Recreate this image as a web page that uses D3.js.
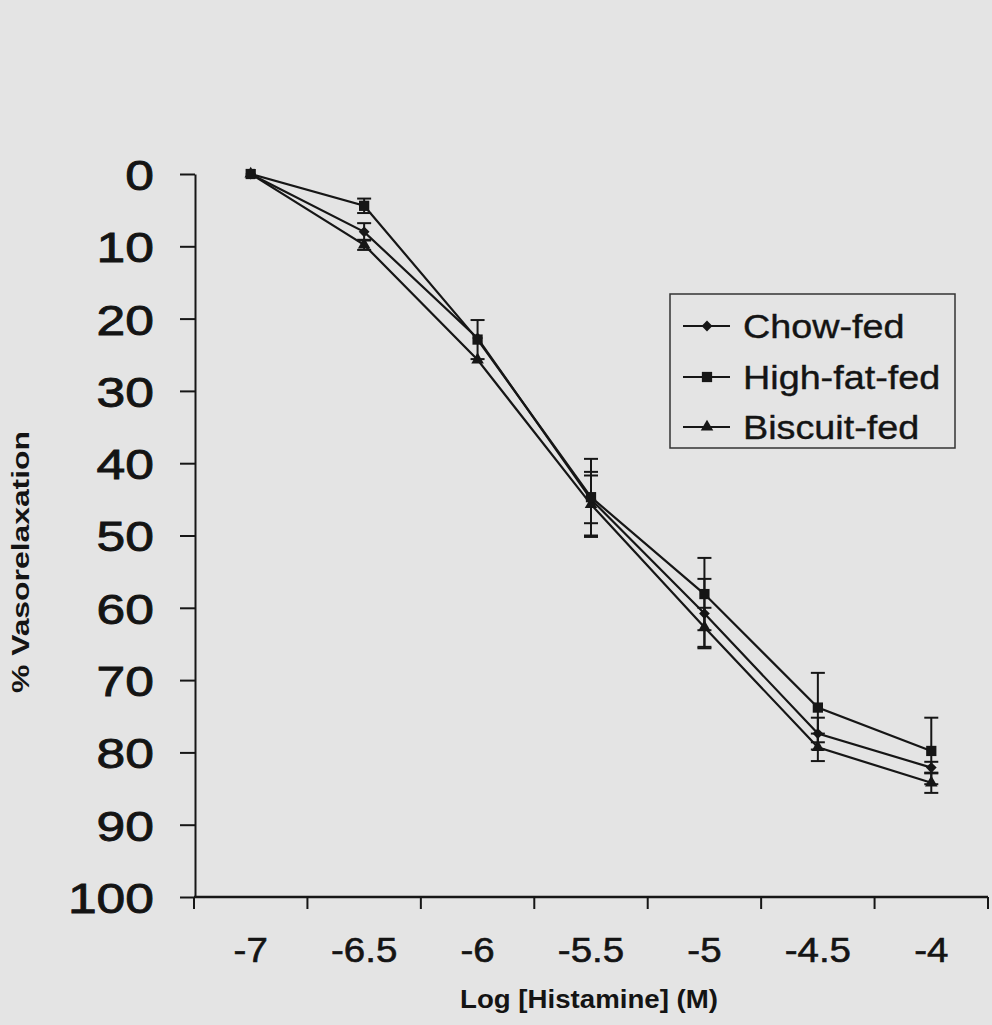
<!DOCTYPE html>
<html>
<head>
<meta charset="utf-8">
<script src="https://cdn.jsdelivr.net/npm/d3@7"></script>
<style>
html,body{margin:0;padding:0;background:#e4e4e4;}
svg{display:block;}
text{font-family:"Liberation Sans",Arial,sans-serif;fill:#141414;}
</style>
</head>
<body>
<svg id="chart" width="992" height="1025"></svg>
<script>
// ---- data ----
const categories = ["-7", "-6.5", "-6", "-5.5", "-5", "-4.5", "-4"];
const chowFed      = [0, 8.0, 22.7, 45.0, 60.8, 77.4, 82.1];
const chowFedSE    = [0, 1.2, 0.0, 3.3, 4.8, 2.2, 0.8];
const highFatFed   = [0, 4.4, 22.9, 44.7, 58.1, 73.8, 79.8];
const highFatFedSE = [0, 1.0, 2.7, 5.3, 5.0, 4.8, 4.6];
const biscuitFed   = [0, 9.8, 25.7, 45.7, 62.7, 79.3, 84.2];
const biscuitFedSE = [0, 0.7, 0.0, 4.5, 2.7, 1.9, 1.4];
const yTicks = [0, 10, 20, 30, 40, 50, 60, 70, 80, 90, 100];
const seriesNames = ["Chow-fed", "High-fat-fed", "Biscuit-fed"];
const seriesSymbols = ["diamond", "square", "triangle"];
const xTitle = "Log [Histamine] (M)";
const yTitle = "% Vasorelaxation";

const series = [
  {name: seriesNames[0], values: chowFed, se: chowFedSE, symbol: seriesSymbols[0]},
  {name: seriesNames[1], values: highFatFed, se: highFatFedSE, symbol: seriesSymbols[1]},
  {name: seriesNames[2], values: biscuitFed, se: biscuitFedSE, symbol: seriesSymbols[2]}
];
// drawing order (high-fat on top, as in the original)
const drawOrder = [2, 0, 1];

const ink = "#161616";
const svg = d3.select("#chart");

const x = d3.scaleBand().domain(categories).range([194, 988]).paddingInner(0).paddingOuter(0);
const y = d3.scaleLinear().domain([0, 100]).range([174, 897]);
const cx = c => x(c) + x.bandwidth() / 2;

function stretch(sel, k) {
  sel.each(function () {
    const w = this.getComputedTextLength();
    d3.select(this).attr("textLength", w * k).attr("lengthAdjust", "spacingAndGlyphs");
  });
}

// y axis
const yAxis = svg.append("g").attr("transform", "translate(195,0)")
  .call(d3.axisLeft(y).tickValues(yTicks).tickSize(15).tickPadding(26).tickSizeOuter(0));
yAxis.select(".domain").attr("stroke", ink).attr("stroke-width", 2);
yAxis.selectAll(".tick line").attr("stroke", ink).attr("stroke-width", 2);
yAxis.selectAll(".tick text").attr("font-size", 43).attr("fill", "#141414")
  .attr("stroke", "#141414").attr("stroke-width", 0.9)
  .attr("font-family", "Liberation Sans, Arial, sans-serif").attr("dy", "0.36em");
stretch(yAxis.selectAll(".tick text"), 1.2);

// x axis: labels via axis, boundary ticks via scale
const xAxis = svg.append("g").attr("transform", "translate(0,897)")
  .call(d3.axisBottom(x).tickSize(0).tickPadding(40).tickSizeOuter(0));
xAxis.select(".domain").remove();
xAxis.selectAll(".tick text").attr("font-size", 35).attr("fill", "#141414")
  .attr("stroke", "#141414").attr("stroke-width", 0.6)
  .attr("font-family", "Liberation Sans, Arial, sans-serif");
stretch(xAxis.selectAll(".tick text"), 1.1);
xAxis.append("line").attr("x1", x.range()[0]).attr("x2", x.range()[1])
  .attr("y1", 0).attr("y2", 0).attr("stroke", ink).attr("stroke-width", 2.4);
const edges = categories.map(c => x(c) + x.bandwidth()).concat([x(categories[0])]);
xAxis.selectAll("line.edge").data(edges).enter().append("line")
  .attr("class", "edge").attr("x1", d => d).attr("x2", d => d)
  .attr("y1", 0).attr("y2", 12).attr("stroke", ink).attr("stroke-width", 2);

// axis titles
const yt = svg.append("text").attr("transform", "translate(29,562) rotate(-90)")
  .attr("text-anchor", "middle").attr("font-size", 24).attr("font-weight", "bold").text(yTitle);
yt.attr("textLength", 262).attr("lengthAdjust", "spacingAndGlyphs");
const xt = svg.append("text").attr("x", 589).attr("y", 1008)
  .attr("text-anchor", "middle").attr("font-size", 26).attr("font-weight", "bold").text(xTitle);
xt.attr("textLength", 258).attr("lengthAdjust", "spacingAndGlyphs");

// symbols
const symType = {diamond: d3.symbolSquare, square: d3.symbolSquare, triangle: d3.symbolTriangle};
const symSize = {diamond: 58, square: 105, triangle: 68};
const symRot = {diamond: 45, square: 0, triangle: 0};
const symbol = s => d3.symbol().type(symType[s]).size(symSize[s])();

const line = d3.line().x((d, i) => cx(categories[i])).y(d => y(d));

const plot = svg.append("g");
drawOrder.forEach(k => {
  const s = series[k];
  const eb = plot.append("g");
  s.values.forEach((v, i) => {
    const e = s.se[i];
    if (!e) return;
    const px = cx(categories[i]);
    eb.append("line").attr("x1", px).attr("x2", px).attr("y1", y(v - e)).attr("y2", y(v + e))
      .attr("stroke", ink).attr("stroke-width", 2);
    [v - e, v + e].forEach(b => {
      eb.append("line").attr("x1", px - 7).attr("x2", px + 7).attr("y1", y(b)).attr("y2", y(b))
        .attr("stroke", ink).attr("stroke-width", 2);
    });
  });
  plot.append("path").attr("d", line(s.values)).attr("fill", "none")
    .attr("stroke", ink).attr("stroke-width", 2.2);
  plot.append("g").selectAll("path").data(s.values).enter().append("path")
    .attr("d", symbol(s.symbol))
    .attr("transform", (d, i) => `translate(${cx(categories[i])},${y(d)}) rotate(${symRot[s.symbol]})`)
    .attr("fill", ink);
});

// legend
const legend = svg.append("g");
legend.append("rect").attr("x", 670).attr("y", 294).attr("width", 285).attr("height", 154)
  .attr("fill", "none").attr("stroke", "#333").attr("stroke-width", 1.5);
const rowY = [326, 377, 427];
series.forEach((s, i) => {
  const g = legend.append("g").attr("transform", `translate(0,${rowY[i]})`);
  g.append("line").attr("x1", 683).attr("x2", 730).attr("y1", 0).attr("y2", 0)
    .attr("stroke", ink).attr("stroke-width", 2);
  g.append("path").attr("d", symbol(s.symbol))
    .attr("transform", `translate(707,0) rotate(${symRot[s.symbol]})`).attr("fill", ink);
  const t = g.append("text").attr("x", 743).attr("y", 0).attr("dy", "0.36em")
    .attr("font-size", 34).attr("stroke", "#141414").attr("stroke-width", 0.4).text(s.name);
  stretch(t, 1.11);
});
</script>
</body>
</html>
